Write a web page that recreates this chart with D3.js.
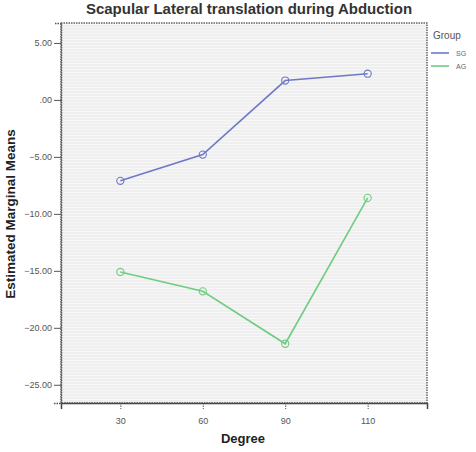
<!DOCTYPE html>
<html lang="en">
<head>
<meta charset="UTF-8">
<title>Scapular Lateral translation during Abduction</title>
<style>
    body { margin: 0; background: #fff; }
    text { font-family: "Liberation Sans", Arial, sans-serif; }
    .tick text { fill: #555; font-size: 9px; }
</style>
<script src="https://d3js.org/d3.v7.min.js"></script>
</head>
<body>
<svg width="476" height="452"></svg>
<script>
    // data
    const degrees = ["30", "60", "90", "110"];
    const groups = ["SG", "AG"];
    const sgMeans = [-7.1, -4.8, 1.7, 2.3];
    const agMeans = [-15.1, -16.8, -21.4, -8.6];
    const yTicks = [5, 0, -5, -10, -15, -20, -25];
    const colors = { SG: "#6f78c6", AG: "#70cc80" };

    const svg = d3.select("svg");
    const margin = { top: 23, right: 49, bottom: 49, left: 61 };
    const width = 476 - margin.left - margin.right;
    const height = 452 - margin.top - margin.bottom;

    const x = d3.scalePoint().domain(degrees).range([0, width]).padding(0.72);
    const y = d3.scaleLinear().domain([-26.6, 6.75]).range([height, 0]);

    const g = svg.append("g").attr("transform", `translate(${margin.left},${margin.top})`);

    // striped grey plot background
    g.append("rect").attr("width", width).attr("height", height).attr("fill", "#ececec");
    g.append("g").selectAll("line")
        .data(d3.range(1.5, height, 3))
        .enter().append("line")
        .attr("x1", 0).attr("x2", width)
        .attr("y1", d => d).attr("y2", d => d)
        .attr("stroke", "#f7f7f7").attr("stroke-width", 1.4);

    // frame
    g.append("rect").attr("width", width).attr("height", height)
        .attr("fill", "none").attr("stroke", "#666").attr("stroke-width", 1.5)
        .attr("stroke-dasharray", "1.5,1");

    const yAxis = g.append("g")
        .call(d3.axisLeft(y).tickValues(yTicks).tickSize(7).tickPadding(2)
            .tickFormat(d => d === 0 ? ".00" : d3.format(".2f")(d)));
    yAxis.select(".domain").attr("stroke", "#555").attr("stroke-width", 1.5).attr("stroke-dasharray", "1.5,1");
    yAxis.selectAll(".tick line").attr("stroke", "#555");

    const xAxis = g.append("g").attr("transform", `translate(0,${height})`)
        .call(d3.axisBottom(x).tickSize(6).tickPadding(9));
    xAxis.select(".domain").attr("stroke", "#444").attr("stroke-width", 1.5);
    xAxis.selectAll(".tick line").attr("stroke", "#555").attr("stroke-dasharray", "1.5,1");

    const series = [
        { name: "SG", values: sgMeans },
        { name: "AG", values: agMeans }
    ];

    const line = d3.line().x((d, i) => x(degrees[i])).y(d => y(d));

    series.forEach(s => {
        g.append("path")
            .attr("d", line(s.values))
            .attr("fill", "none")
            .attr("stroke", colors[s.name])
            .attr("stroke-width", 1.6);
        g.selectAll(null)
            .data(s.values)
            .enter().append("circle")
            .attr("cx", (d, i) => x(degrees[i]))
            .attr("cy", d => y(d))
            .attr("r", 3.6)
            .attr("fill", "none")
            .attr("stroke", colors[s.name])
            .attr("stroke-width", 1.1);
    });

    // title, tight against the top edge
    svg.append("text")
        .attr("x", 249).attr("y", 14)
        .attr("text-anchor", "middle")
        .attr("font-size", 15).attr("font-weight", "bold").attr("fill", "#333")
        .text("Scapular Lateral translation during Abduction");

    // axis titles
    svg.append("text")
        .attr("transform", "translate(15,214) rotate(-90)")
        .attr("text-anchor", "middle")
        .attr("font-size", 13.5).attr("font-weight", "bold").attr("fill", "#222")
        .text("Estimated Marginal Means");

    svg.append("text")
        .attr("x", 243).attr("y", 443)
        .attr("text-anchor", "middle")
        .attr("font-size", 13).attr("font-weight", "bold").attr("fill", "#222")
        .text("Degree");

    // legend
    const legend = svg.append("g").attr("transform", "translate(431,0)");
    legend.append("text").attr("x", 2).attr("y", 39)
        .attr("font-size", 10).attr("fill", "#555").text("Group");
    groups.forEach((name, i) => {
        const ly = 53 + i * 13;
        legend.append("line")
            .attr("x1", 0).attr("x2", 18).attr("y1", ly).attr("y2", ly)
            .attr("stroke", colors[name]).attr("stroke-width", 1.6);
        legend.append("text").attr("x", 25).attr("y", ly + 2.5)
            .attr("font-size", 7).attr("fill", "#666").text(name);
    });
</script>
</body>
</html>
